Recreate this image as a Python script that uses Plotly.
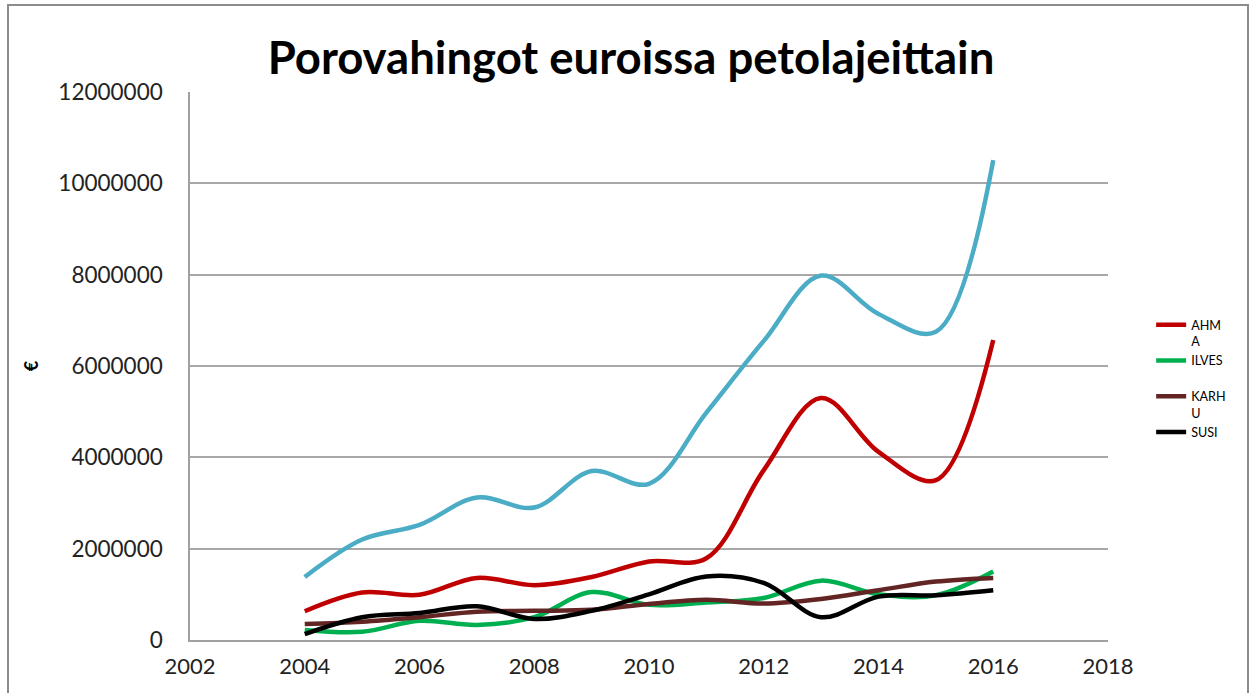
import plotly.graph_objects as go

years = [2004, 2005, 2006, 2007, 2008, 2009, 2010, 2011, 2012, 2013, 2014, 2015, 2016]
total = [1380000, 2200000, 2520000, 3120000, 2900000, 3700000, 3420000, 4980000, 6550000, 7980000, 7140000, 6750000, 10510000]
ahma = [630000, 1040000, 990000, 1360000, 1200000, 1380000, 1720000, 1790000, 3720000, 5300000, 4120000, 3500000, 6570000]
ilves = [220000, 180000, 420000, 330000, 500000, 1050000, 770000, 820000, 920000, 1300000, 1000000, 980000, 1500000]
karhu = [350000, 400000, 500000, 620000, 640000, 660000, 790000, 880000, 800000, 900000, 1090000, 1280000, 1360000]
susi = [130000, 500000, 590000, 740000, 460000, 640000, 1000000, 1390000, 1250000, 500000, 950000, 980000, 1090000]

series_names = ["AHM<br>A", "ILVES<br> ", "KARH<br>U", "SUSI"]
series_values = [ahma, ilves, karhu, susi]
series_colors = ["#C00000", "#00B050", "#632523", "#000000"]

x_ticks = [2002, 2004, 2006, 2008, 2010, 2012, 2014, 2016, 2018]
y_ticks = [0, 2000000, 4000000, 6000000, 8000000, 10000000, 12000000]

FONT = "Lato"
L, T, PW, PH = 190, 92, 918, 548
W, H = 1254, 693

fig = go.Figure()
fig.add_trace(go.Scatter(x=years, y=total, mode="lines", showlegend=False,
                         line=dict(color="#4BACC6", width=4.5, shape="spline", smoothing=1.0)))
for name, vals, col in zip(series_names, series_values, series_colors):
    fig.add_trace(go.Scatter(x=years, y=vals, mode="lines", name=name,
                             line=dict(color=col, width=4.5, shape="spline", smoothing=1.0)))

fig.update_layout(
    width=W, height=H,
    margin=dict(l=L, r=W - L - PW, t=T, b=H - T - PH, autoexpand=False),
    paper_bgcolor="white", plot_bgcolor="white",
    font=dict(family=FONT, color="#222222"),
    title=dict(text="<b>Porovahingot euroissa petolajeittain</b>", x=631 / W, xref="container",
               y=1 - 58 / H, yref="container", yanchor="middle", xanchor="center",
               font=dict(size=45.5, family=FONT, color="#000000")),
    xaxis=dict(range=[2002, 2018], tickvals=x_ticks, ticktext=[str(v) for v in x_ticks],
               showgrid=False, zeroline=False, showline=True, linecolor="#A0A0A0", linewidth=1.5,
               ticks="", tickfont=dict(size=22, family=FONT, color="#222222"),
               ticklabelstandoff=6),
    yaxis=dict(range=[0, 12000000], tickvals=y_ticks, ticktext=[str(v) for v in y_ticks],
               showgrid=True, gridcolor="#A8A8A8", gridwidth=1.5, zeroline=False,
               showline=True, linecolor="#A0A0A0", linewidth=1.5, ticks="",
               tickfont=dict(size=22.5, family=FONT, color="#222222"),
               ticklabelstandoff=21,
               title=dict(text="<b>€</b>", standoff=15, font=dict(size=18, family=FONT, color="#000000"))),
    legend=dict(x=1.047, y=0.602, xanchor="left", yanchor="top", valign="top",
                font=dict(size=12.6, family=FONT, color="#000000"),
                bgcolor="rgba(0,0,0,0)", tracegroupgap=0, itemwidth=30),
    shapes=[dict(type="rect", xref="paper", yref="paper",
                 x0=(8 - L) / PW, x1=(1248 - L) / PW,
                 y0=-0.2, y1=(T + PH - 5) / PH,
                 line=dict(color="#8C8C8C", width=2), fillcolor="rgba(0,0,0,0)")],
)

fig.write_html("out.html", config={"displayModeBar": False},
               post_script="document.body.style.margin='0';")
